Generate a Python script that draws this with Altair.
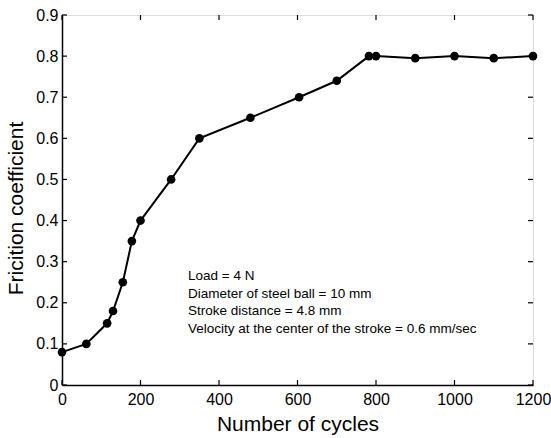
import altair as alt
import pandas as pd

cycles = [0, 62, 115, 130, 155, 178, 200, 278, 350, 480, 604, 700, 782, 800, 900, 1000, 1100, 1200]
friction = [0.08, 0.10, 0.15, 0.18, 0.25, 0.35, 0.40, 0.50, 0.60, 0.65, 0.70, 0.74, 0.80, 0.80, 0.795, 0.80, 0.795, 0.80]
x_ticks = [0, 200, 400, 600, 800, 1000, 1200]
y_ticks = [0, 0.1, 0.2, 0.3, 0.4, 0.5, 0.6, 0.7, 0.8, 0.9]
notes = ["Load = 4 N", "Diameter of steel ball = 10 mm", "Stroke distance = 4.8 mm",
         "Velocity at the center of the stroke = 0.6 mm/sec"]

W, H = 471, 370
FONT = "Liberation Sans"

df = pd.DataFrame({"cycles": cycles, "friction": friction})
xt = pd.DataFrame({"v": x_ticks})
yt = pd.DataFrame({"v": y_ticks})

xs = alt.Scale(domain=[0, 1200], nice=False, zero=False)
ys = alt.Scale(domain=[0, 0.9], nice=False, zero=False)

base = alt.Chart(df)
line = base.mark_line(color="black", strokeWidth=2).encode(
    x=alt.X("cycles:Q", scale=xs, title="Number of cycles",
            axis=alt.Axis(values=x_ticks, tickSize=0, labelPadding=6, grid=False,
                          labelFlush=False, labelOverlap=False,
                          domainColor="black", domainWidth=1.5, labelFontSize=16,
                          labelFont=FONT, labelColor="black", titleFont=FONT,
                          titleFontSize=21, titleFontWeight="normal", titleColor="black",
                          titlePadding=6, format="d")),
    y=alt.Y("friction:Q", scale=ys, title="Fricition coefficient",
            axis=alt.Axis(values=y_ticks, tickSize=0, labelPadding=4, grid=False,
                          labelFlush=False, labelOverlap=False,
                          domainColor="black", domainWidth=1.5, labelFontSize=16,
                          labelFont=FONT, labelColor="black", titleFont=FONT,
                          titleFontSize=21, titleFontWeight="normal", titleColor="black",
                          titlePadding=9, titleY=193,
                          labelExpr="datum.value == 0 ? '0' : format(datum.value, '.1f')")),
)
pts = base.mark_circle(color="black", opacity=1, size=75).encode(
    x=alt.X("cycles:Q", scale=xs), y=alt.Y("friction:Q", scale=ys))

tick_style = dict(color="black", strokeWidth=1.2)
xb = alt.Chart(xt).mark_rule(**tick_style).encode(
    x=alt.X("v:Q", scale=xs), y=alt.value(H), y2=alt.value(H - 5))
xtop = alt.Chart(xt).mark_rule(**tick_style).encode(
    x=alt.X("v:Q", scale=xs), y=alt.value(0), y2=alt.value(5))
yl = alt.Chart(yt).mark_rule(**tick_style).encode(
    y=alt.Y("v:Q", scale=ys), x=alt.value(0), x2=alt.value(5))
yr = alt.Chart(yt).mark_rule(**tick_style).encode(
    y=alt.Y("v:Q", scale=ys), x=alt.value(W), x2=alt.value(W - 5))

note = alt.Chart(pd.DataFrame({"t": ["\n".join(notes)]})).mark_text(
    align="left", baseline="alphabetic", font=FONT, fontSize=13.5, color="black",
    lineBreak="\n", lineHeight=17.5).encode(
    text="t:N", x=alt.value(126), y=alt.value(265))

chart = alt.layer(line, pts, xb, xtop, yl, yr, note).properties(
    width=W, height=H,
    autosize=alt.AutoSizeParams(type="none"),
    padding={"left": 62, "top": 15, "right": 18, "bottom": 53},
).configure_view(stroke="black", strokeWidth=1.5).configure(background="white")

chart.save("out.html", embed_options={"renderer": "svg", "actions": False})
